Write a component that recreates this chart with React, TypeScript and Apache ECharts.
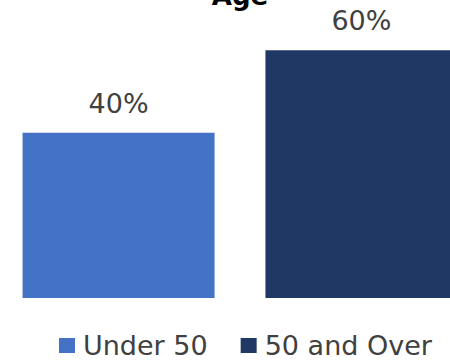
import React, { useEffect, useRef } from "react";
import * as echarts from "echarts";

const categories = ["Age"];
const seriesNames = ["Under 50", "50 and Over"];
const under50 = [40];
const over50 = [60];
const colors = ["#4472C4", "#203864"];

export default function App() {
  const ref = useRef<HTMLDivElement>(null);
  useEffect(() => {
    if (!ref.current) return;
    const chart = echarts.init(ref.current, undefined, { renderer: "svg" });
    const font = "DejaVu Sans";
    chart.setOption({
      animation: false,
      title: {
        text: "Age",
        left: "center",
        top: -22,
        textStyle: { fontFamily: font, fontSize: 26, fontWeight: "bold", color: "#000" },
      },
      legend: {
        data: seriesNames,
        left: 54,
        top: 327,
        icon: "rect",
        itemWidth: 16,
        itemHeight: 15,
        itemGap: 33,
        textStyle: {
          fontFamily: font,
          fontSize: 27,
          color: "#404040",
          padding: [0, 0, 0, 3],
          lineHeight: 26,
        },
      },
      grid: { left: 0, right: 0, top: 9, bottom: 63 },
      xAxis: {
        type: "category",
        data: categories,
        axisLine: { show: false },
        axisTick: { show: false },
        axisLabel: { show: false },
      },
      yAxis: {
        type: "value",
        min: 0,
        max: 70,
        show: false,
        splitLine: { show: false },
      },
      series: [
        {
          name: seriesNames[0],
          type: "bar",
          data: under50,
          barWidth: 192,
          barGap: "26.5%",
          itemStyle: { color: colors[0] },
          label: {
            show: true,
            position: "top",
            distance: 16,
            formatter: "{c}%",
            fontFamily: font,
            fontSize: 27,
            color: "#404040",
          },
        },
        {
          name: seriesNames[1],
          type: "bar",
          data: over50,
          barWidth: 192,
          barGap: "26.5%",
          itemStyle: { color: colors[1] },
          label: {
            show: true,
            position: "top",
            distance: 16,
            formatter: "{c}%",
            fontFamily: font,
            fontSize: 27,
            color: "#404040",
          },
        },
      ],
    });
    return () => chart.dispose();
  }, []);
  return (
    <div style={{ position: "fixed", left: 0, top: 0, width: 450, height: 361, overflow: "hidden", background: "#fff" }}>
      <div ref={ref} style={{ width: 480, height: 361 }} />
    </div>
  );
}
